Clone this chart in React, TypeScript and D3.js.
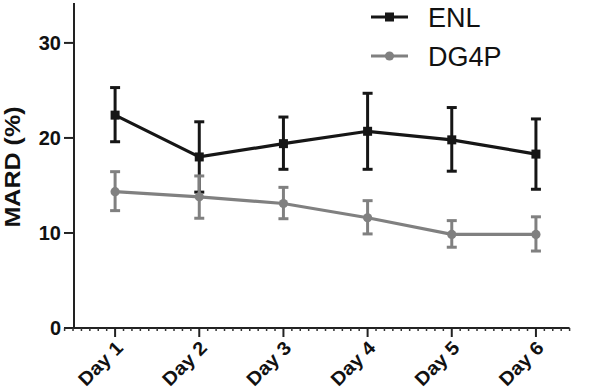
import React from "react";
import * as d3 from "d3";

const days = ["Day 1", "Day 2", "Day 3", "Day 4", "Day 5", "Day 6"];
const enlMean = [22.4, 18.0, 19.4, 20.7, 19.8, 18.3];
const enlHigh = [25.3, 21.7, 22.2, 24.7, 23.2, 22.0];
const enlLow = [19.6, 14.3, 16.7, 16.7, 16.5, 14.6];
const dgMean = [14.35, 13.8, 13.1, 11.6, 9.85, 9.85];
const dgHigh = [16.45, 16.0, 14.8, 13.4, 11.3, 11.7];
const dgLow = [12.35, 11.55, 11.5, 9.9, 8.5, 8.1];
const yTicks = [0, 10, 20, 30];
const seriesNames = ["ENL", "DG4P"];

const W = 589;
const H = 391;

export default function App() {
  const x = d3.scaleLinear().domain([0.4, 6.4]).range([64.6, 569.6]);
  const y = d3.scaleLinear().domain([0, 34.2]).range([328, 3]);
  const minor = d3.range(4, 65).map((v) => v / 10).filter((v) => Math.abs(v - Math.round(v)) > 1e-6);
  const line = d3
    .line<number>()
    .x((_, i) => x(i + 1))
    .y((d) => y(d));

  const series = [
    { name: seriesNames[0], mean: enlMean, hi: enlHigh, lo: enlLow, color: "#161616", shape: "square" },
    { name: seriesNames[1], mean: dgMean, hi: dgHigh, lo: dgLow, color: "#808080", shape: "circle" },
  ];

  const marker = (shape: string, cx: number, cy: number, color: string, key: string) =>
    shape === "square" ? (
      <rect key={key} x={cx - 4.5} y={cy - 4.5} width={9} height={9} fill={color} />
    ) : (
      <circle key={key} cx={cx} cy={cy} r={4.6} fill={color} />
    );

  return (
    <svg width={W} height={H} style={{ position: "absolute", left: 0, top: 0, background: "#fff" }}
      fontFamily="'Liberation Sans', Arial, sans-serif">
      {/* y axis */}
      <line x1={74} x2={74} y1={3} y2={y(0)} stroke="#222" strokeWidth={2} />
      {yTicks.map((t) => (
        <g key={t}>
          <line x1={64} x2={74} y1={y(t)} y2={y(t)} stroke="#222" strokeWidth={2} />
          <text x={61} y={y(t)} dy="0.36em" textAnchor="end" fontSize={20} fontWeight="bold" fill="#111">
            {t}
          </text>
        </g>
      ))}
      <text
        transform={`translate(20,167) rotate(-90)`}
        textAnchor="middle"
        fontSize={22}
        fontWeight="bold"
        fill="#111"
        textLength={121}
        lengthAdjust="spacingAndGlyphs"
      >
        MARD (%)
      </text>

      {/* x axis */}
      <line x1={x(0.4)} x2={x(6.4)} y1={y(0)} y2={y(0)} stroke="#222" strokeWidth={2} />
      {minor.map((m) => (
        <line key={m} x1={x(m)} x2={x(m)} y1={y(0)} y2={y(0) + 3} stroke="#333" strokeWidth={1.5} />
      ))}
      {days.map((d, i) => (
        <g key={d}>
          <line x1={x(i + 1)} x2={x(i + 1)} y1={y(0)} y2={y(0) + 9} stroke="#222" strokeWidth={2} />
          <text
            transform={`translate(${x(i + 1) + 9},${y(0) + 21}) rotate(-45)`}
            textAnchor="end"
            fontSize={19}
            fontWeight="bold"
            fill="#111"
            textLength={54}
            lengthAdjust="spacingAndGlyphs"
          >
            {d}
          </text>
        </g>
      ))}

      {/* series */}
      {series.map((s) => (
        <g key={s.name}>
          {s.mean.map((_, i) => (
            <g key={i} stroke={s.color} strokeWidth={3}>
              <line x1={x(i + 1)} x2={x(i + 1)} y1={y(s.hi[i])} y2={y(s.lo[i])} />
              <line x1={x(i + 1) - 5} x2={x(i + 1) + 5} y1={y(s.hi[i])} y2={y(s.hi[i])} />
              <line x1={x(i + 1) - 5} x2={x(i + 1) + 5} y1={y(s.lo[i])} y2={y(s.lo[i])} />
            </g>
          ))}
          <path d={line(s.mean) || ""} fill="none" stroke={s.color} strokeWidth={3.2} />
          {s.mean.map((v, i) => marker(s.shape, x(i + 1), y(v), s.color, `m${i}`))}
        </g>
      ))}

      {/* legend */}
      {series.map((s, i) => (
        <g key={s.name} transform={`translate(0,${17 + i * 39})`}>
          <line x1={371} x2={408} y1={0} y2={0} stroke={s.color} strokeWidth={3.2} />
          {marker(s.shape, 389.5, 0, s.color, "lm")}
          <text x={428} y={10} fontSize={27} fill="#111">
            {s.name}
          </text>
        </g>
      ))}
    </svg>
  );
}
